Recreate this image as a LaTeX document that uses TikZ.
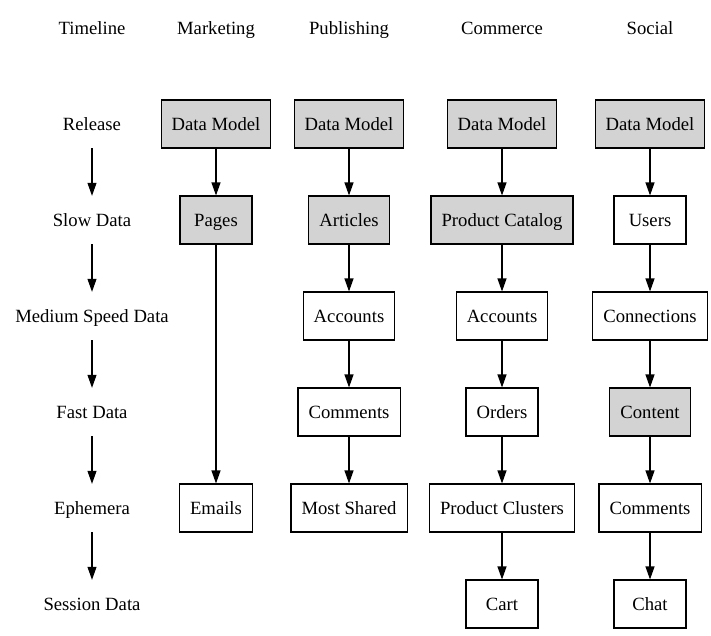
\documentclass[tikz,border=0pt]{standalone}
\usepackage{fontspec}
\setmainfont{Liberation Serif}
\usetikzlibrary{arrows.meta}
\begin{document}
\begin{tikzpicture}[x=1pt,y=-1pt,
  every node/.style={font=\fontsize{18.67}{22}\selectfont,text height=13pt,text depth=0.5pt},
  box/.style={draw,line width=1.1pt,minimum width=72pt,minimum height=48pt,inner xsep=10.6pt,inner ysep=0pt,anchor=center},
  gbox/.style={box,fill={rgb,255:red,211;green,211;blue,211}},
  lbl/.style={minimum height=48pt,inner sep=0pt},
  edge/.style={draw,line width=1.1pt,-{Triangle[length=13pt,width=9pt]}}]
\useasboundingbox (0,0) rectangle (711,635);
% headers
\node (hT) at (92,28) {Timeline};
\node (hM) at (216,28) {Marketing};
\node (hP) at (349,28) {Publishing};
\node (hC) at (502,28) {Commerce};
\node (hS) at (650,28) {Social};
% timeline
\node[lbl] (t1) at (92,124) {Release};
\node[lbl] (t2) at (92,220) {Slow Data};
\node[lbl] (t3) at (92,316) {Medium Speed Data};
\node[lbl] (t4) at (92,412) {Fast Data};
\node[lbl] (t5) at (92,508) {Ephemera};
\node[lbl] (t6) at (92,604) {Session Data};
\foreach \a/\b in {t1/t2,t2/t3,t3/t4,t4/t5,t5/t6} \path[edge] (\a) -- (\b);
% marketing
\node[gbox] (m1) at (216,124) {Data Model};
\node[gbox] (m2) at (216,220) {Pages};
\node[box] (m3) at (216,508) {Emails};
\path[edge] (m1) -- (m2);
\path[edge] (m2) -- (m3);
% publishing
\node[gbox] (p1) at (349,124) {Data Model};
\node[gbox] (p2) at (349,220) {Articles};
\node[box] (p3) at (349,316) {Accounts};
\node[box] (p4) at (349,412) {Comments};
\node[box] (p5) at (349,508) {Most Shared};
\foreach \a/\b in {p1/p2,p2/p3,p3/p4,p4/p5} \path[edge] (\a) -- (\b);
% commerce
\node[gbox] (c1) at (502,124) {Data Model};
\node[gbox] (c2) at (502,220) {Product Catalog};
\node[box] (c3) at (502,316) {Accounts};
\node[box] (c4) at (502,412) {Orders};
\node[box] (c5) at (502,508) {Product Clusters};
\node[box] (c6) at (502,604) {Cart};
\foreach \a/\b in {c1/c2,c2/c3,c3/c4,c4/c5,c5/c6} \path[edge] (\a) -- (\b);
% social
\node[gbox] (s1) at (650,124) {Data Model};
\node[box] (s2) at (650,220) {Users};
\node[box] (s3) at (650,316) {Connections};
\node[gbox] (s4) at (650,412) {Content};
\node[box] (s5) at (650,508) {Comments};
\node[box] (s6) at (650,604) {Chat};
\foreach \a/\b in {s1/s2,s2/s3,s3/s4,s4/s5,s5/s6} \path[edge] (\a) -- (\b);
\end{tikzpicture}
\end{document}
